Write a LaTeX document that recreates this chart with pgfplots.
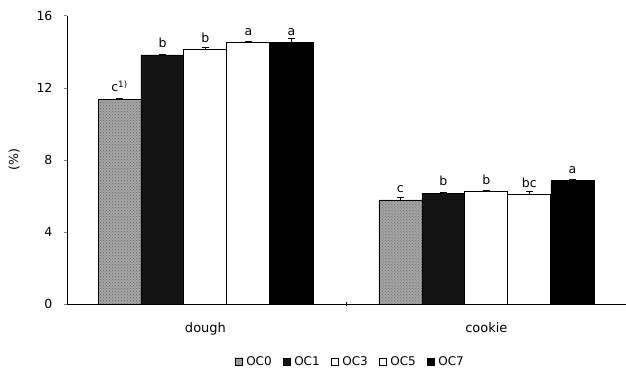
\documentclass[border=0pt]{standalone}
\usepackage{pgfplots}
\pgfplotsset{compat=1.18}
\usepackage{pgfplotstable}
\usepackage{fontspec}
\setmainfont{DejaVu Sans}
\usetikzlibrary{patterns}

\pgfplotstableread{
x y e lab
0 11.36 0.05 {c\textsuperscript{1)}}
1 5.78 0.15 c
}\tOCzero
\pgfplotstableread{
x y e lab
0 13.82 0.04 b
1 6.15 0.04 b
}\tOCone
\pgfplotstableread{
x y e lab
0 14.10 0.12 b
1 6.24 0.05 b
}\tOCthree
\pgfplotstableread{
x y e lab
0 14.50 0.10 a
1 6.06 0.18 bc
}\tOCfive
\pgfplotstableread{
x y e lab
0 14.50 0.25 a
1 6.85 0.10 a
}\tOCseven

\begin{document}
\begin{tikzpicture}[x=1pt,y=1pt]
\begin{axis}[
  scale only axis, width=559pt, height=288.6pt,
  xmin=-0.493, xmax=1.496, ymin=0, ymax=16,
  ybar=0pt, bar width=43pt,
  axis x line*=bottom, axis y line*=left,
  axis line style={line width=0.6pt},
  xtick={0,1}, xticklabels={dough,cookie},
  x tick style={draw=none},
  extra x ticks={0.5}, extra x tick labels={},
  extra x tick style={major tick length=4pt, tick align=center, x tick style={draw=black}},
  xticklabel style={yshift=-12pt, font=\fontsize{13}{15}\selectfont},
  ytick={0,4,8,12,16}, tick align=outside, major tick length=3pt,
  ytick style={line width=0.6pt},
  yticklabel style={xshift=-8pt, font=\fontsize{12.5}{14}\selectfont},
  ylabel={(\%)}, ylabel style={yshift=10pt, font=\fontsize{12.5}{14}\selectfont},
  /pgf/number format/assume math mode=true,
  clip=false,
  error bars/y dir=plus, error bars/y explicit,
  error bars/error bar style={black, line width=0.7pt},
  error bars/error mark options={rotate=90, mark size=3.5pt, black, line width=0.7pt},
  nodes near coords, point meta=explicit symbolic,
  nodes near coords style={anchor=base, yshift=7.5pt, font=\fontsize{12.5}{14}\selectfont, black},
  legend columns=-1,
  legend style={at={(0.507,-0.2)}, anchor=center, draw=none, fill=none,
    font=\fontsize{12}{14}\selectfont,
    /tikz/every odd column/.append style={column sep=1.5pt},
    /tikz/every even column/.append style={column sep=9pt}},
  legend image code/.code={\draw[#1, line width=0.6pt] (0pt,-3.5pt) rectangle (7.5pt,4pt);},
]
\addplot[draw=black, line width=0.6pt, fill=gray!70, postaction={pattern=crosshatch dots, pattern color=black!60}]
  table[x=x, y=y, y error=e, meta=lab]{\tOCzero};
\addplot[draw=black, line width=0.6pt, fill=black!92]
  table[x=x, y=y, y error=e, meta=lab]{\tOCone};
\addplot[draw=black, line width=1pt, fill=white]
  table[x=x, y=y, y error=e, meta=lab]{\tOCthree};
\addplot[draw=black, line width=1pt, fill=white]
  table[x=x, y=y, y error=e, meta=lab]{\tOCfive};
\addplot[draw=black, line width=0.6pt, fill=black]
  table[x=x, y=y, y error=e, meta=lab]{\tOCseven};
\legend{OC0,OC1,OC3,OC5,OC7}
\end{axis}
\path (current axis.south west) ++(-67pt,-69.7pt) coordinate (bl);
\path (current axis.north east) ++(0pt,15.7pt) coordinate (tr);
\useasboundingbox (bl) rectangle (tr);
\end{tikzpicture}
\end{document}
